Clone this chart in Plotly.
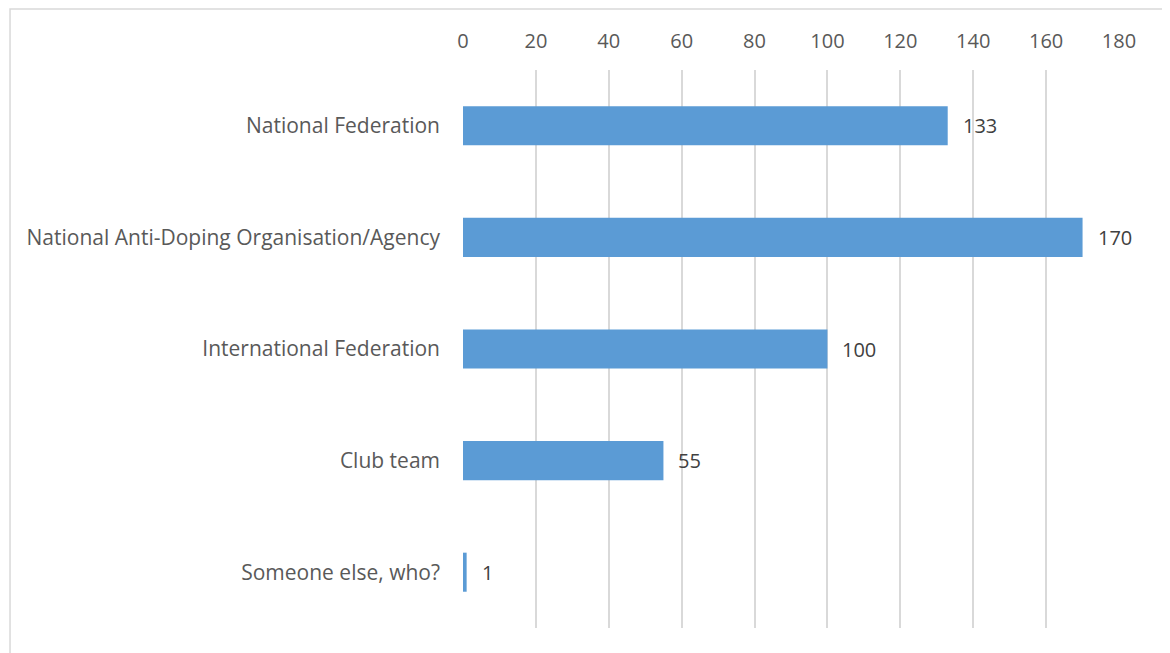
import plotly.graph_objects as go

categories = ["National Federation", "National Anti-Doping Organisation/Agency",
              "International Federation", "Club team", "Someone else, who?"]
values = [133, 170, 100, 55, 1]
tick_vals = [0, 20, 40, 60, 80, 100, 120, 140, 160, 180]

FONT = "'Open Sans', Lato, sans-serif"
FS = 20

fig = go.Figure()
fig.add_trace(go.Bar(
    x=values, y=categories, orientation="h",
    marker=dict(color="#5B9BD5", line=dict(width=0)),
    hoverinfo="skip",
))

for c, v in zip(categories, values):
    fig.add_annotation(x=v, y=c, text=str(v), showarrow=False, xanchor="left",
                       xshift=13, font=dict(family=FONT, size=FS, color="#404040"))

fig.add_shape(type="rect", xref="paper", yref="paper",
              x0=-0.6905, x1=1.0732, y0=-0.08, y1=1.1093,
              line=dict(color="#D9D9D9", width=1.5), fillcolor="rgba(0,0,0,0)", layer="below")

fig.update_layout(
    width=1162, height=645,
    margin=dict(l=455, r=51, t=62, b=25),
    paper_bgcolor="white", plot_bgcolor="white",
    bargap=0.65,
    showlegend=False,
    font=dict(family=FONT, size=FS, color="#595959"),
    xaxis=dict(side="top", range=[0, 180], tickvals=tick_vals, showgrid=True,
               gridcolor="#D9D9D9", gridwidth=1.5, zeroline=False, showline=False,
               ticks="", ticklabelstandoff=17, tickfont=dict(size=FS, color="#595959")),
    yaxis=dict(autorange="reversed", showgrid=False, zeroline=False, showline=False,
               ticks="", ticklabelstandoff=22, tickfont=dict(size=21, color="#595959")),
)

fig.write_html("out.html")
